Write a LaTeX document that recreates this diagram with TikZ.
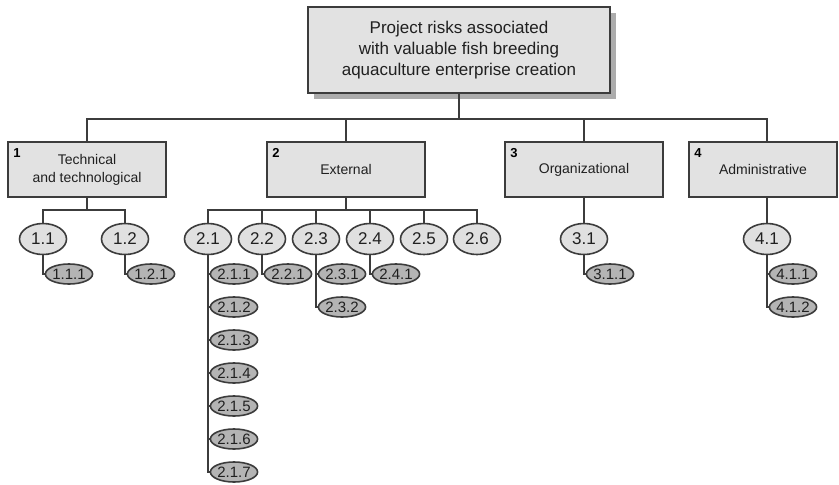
\documentclass[tikz,border=0pt]{standalone}
\usepackage{fontspec}
\setmainfont{Liberation Sans}
\usetikzlibrary{shadows,shapes.geometric}
\definecolor{linec}{HTML}{3C3C3C}
\definecolor{boxfill}{HTML}{E2E2E2}
\definecolor{ellfill}{HTML}{E0E0E0}
\definecolor{smallfill}{HTML}{B4B4B4}
\definecolor{txt}{HTML}{202020}
\tikzset{
  conn/.style={draw=linec, line width=1.6pt},
  topbox/.style={draw=linec, line width=1.6pt, fill=boxfill, minimum width=302pt, minimum height=86pt, align=center, text=txt,
     font=\fontsize{17}{21}\selectfont,
     drop shadow={shadow xshift=6pt, shadow yshift=-6pt, fill=gray!65, opacity=1}},
  catbox/.style={draw=linec, line width=1.6pt, fill=boxfill, minimum width=158pt, minimum height=55pt, align=center, text=txt,
     font=\fontsize{14}{18}\selectfont},
  catnum/.style={anchor=north west, inner sep=0pt, font=\fontsize{13}{13}\selectfont\bfseries, text=black},
  lvltwo/.style={ellipse, draw=linec, line width=1.6pt, fill=ellfill, inner sep=0pt, minimum width=47pt, minimum height=31pt,
     text=txt, font=\fontsize{17}{17}\selectfont},
  lvlthree/.style={ellipse, draw=linec, line width=1.6pt, fill=smallfill, inner sep=0pt, minimum width=38pt, minimum height=20pt,
     text=txt, font=\fontsize{15}{15}\selectfont},
}
\begin{document}
\begin{tikzpicture}[x=1pt, y=-1pt]
\useasboundingbox (0,0) rectangle (839,485);

% top
\node[topbox] (top) at (459,50) {Project risks associated\\with valuable fish breeding\\aquaculture enterprise creation};

% categories
\node[catbox] (b1) at (87,169.5) {\rule{0pt}{3pt}Technical\\and technological};
\node[catbox] (b2) at (346,169.5) {External};
\node[catbox] (b3) at (584,169.5) {Organizational};
\node[catbox, minimum width=148pt] (b4) at (763,169.5) {Administrative};
\node[catnum] (n1) at ([shift={(6,7)}]b1.north west) {1};
\node[catnum] (n2) at ([shift={(6,7)}]b2.north west) {2};
\node[catnum] (n3) at ([shift={(6,7)}]b3.north west) {3};
\node[catnum] (n4) at ([shift={(6,7)}]b4.north west) {4};

% level 2
\node[lvltwo] (e11) at (43,239) {1.1};
\node[lvltwo] (e12) at (125,239) {1.2};
\node[lvltwo] (e21) at (208,239) {2.1};
\node[lvltwo] (e22) at (262,239) {2.2};
\node[lvltwo] (e23) at (316,239) {2.3};
\node[lvltwo] (e24) at (370,239) {2.4};
\node[lvltwo] (e25) at (424,239) {2.5};
\node[lvltwo] (e26) at (477,239) {2.6};
\node[lvltwo] (e31) at (584,239) {3.1};
\node[lvltwo] (e41) at (767,239) {4.1};

% connectors top -> categories
\foreach \b in {b1,b2,b3} \draw[conn] (top.south) -- ++(0,25) -| (\b.north);
\draw[conn] (top.south) -- ++(0,25) -| (b4.north -| e41.north);

% categories -> level 2
\foreach \e in {e11,e12} \draw[conn] (b1.south) -- ++(0,12) -| (\e.north);
\foreach \e in {e21,e22,e23,e24,e25,e26} \draw[conn] (b2.south) -- ++(0,12) -| (\e.north);
\draw[conn] (b3.south) -- (e31.north);
\draw[conn] (b4.south -| e41.north) -- (e41.north);

% level 3
\node[lvlthree] (e111) at (69,274) {1.1.1};
\node[lvlthree] (e121) at (151,274) {1.2.1};
\node[lvlthree] (e211) at (234,274) {2.1.1};
\node[lvlthree] (e212) at (234,307) {2.1.2};
\node[lvlthree] (e213) at (234,340) {2.1.3};
\node[lvlthree] (e214) at (234,373) {2.1.4};
\node[lvlthree] (e215) at (234,406) {2.1.5};
\node[lvlthree] (e216) at (234,439) {2.1.6};
\node[lvlthree] (e217) at (234,472) {2.1.7};
\node[lvlthree] (e221) at (288,274) {2.2.1};
\node[lvlthree] (e231) at (342,274) {2.3.1};
\node[lvlthree] (e232) at (342,307) {2.3.2};
\node[lvlthree] (e241) at (396,274) {2.4.1};
\node[lvlthree] (e311) at (610,274) {3.1.1};
\node[lvlthree] (e411) at (793,274) {4.1.1};
\node[lvlthree] (e412) at (793,307) {4.1.2};

\draw[conn] (e11.south) |- (e111.west);
\draw[conn] (e12.south) |- (e121.west);
\foreach \e in {e211,e212,e213,e214,e215,e216,e217} \draw[conn] (e21.south) |- (\e.west);
\draw[conn] (e22.south) |- (e221.west);
\foreach \e in {e231,e232} \draw[conn] (e23.south) |- (\e.west);
\draw[conn] (e24.south) |- (e241.west);
\draw[conn] (e31.south) |- (e311.west);
\foreach \e in {e411,e412} \draw[conn] (e41.south) |- (\e.west);
\end{tikzpicture}
\end{document}
